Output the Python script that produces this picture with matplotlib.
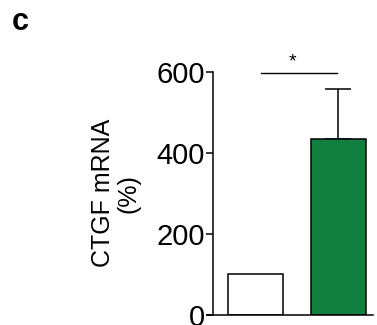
import matplotlib
matplotlib.use("Agg")
import matplotlib.pyplot as plt

plt.rcParams['font.family'] = ['Liberation Sans', 'DejaVu Sans']

groups = ["Control", "Treated"]
means = [100, 434]
errors_up = [0, 123]
bar_colors = ["white", "#11803f"]
yticks = [0, 200, 400, 600]
sig_level = 596
sig_text = "*"

fig = plt.figure(figsize=(3.77, 3.25), dpi=100)
ax = fig.add_axes([213/377, 1 - 315/325, 160/377, (315 - 71.7)/325])

x = [0, 1]
ax.bar(x, means, width=0.663, color=bar_colors, edgecolor="black", linewidth=1.1, zorder=2)
for xi, m, e in zip(x, means, errors_up):
    if e > 0:
        ax.errorbar(xi, m, yerr=[[0], [e]], fmt="none", ecolor="black",
                    elinewidth=1.1, capsize=9.5, capthick=1.1, zorder=1)

ax.set_xlim(-0.508, 1.419)
ax.set_ylim(0, 600)
ax.set_yticks(yticks)
ax.set_xticks([])
ax.tick_params(axis="y", labelsize=21, length=5, width=1.1, pad=1)
for side in ["top", "right"]:
    ax.spines[side].set_visible(False)
ax.spines["left"].set_linewidth(1.1)
ax.spines["bottom"].set_linewidth(1.1)
ax.spines["bottom"].set_bounds(-0.58, 1.419)
ax.spines["left"].set_bounds(0, 600)

ax.set_ylabel("CTGF mRNA\n(%)", fontsize=18, linespacing=1.12, labelpad=11)

# significance bracket
ax.plot([0.07, 0.99], [sig_level, sig_level], color="black", linewidth=1.0, clip_on=False)
ax.text(0.455, sig_level + 8, sig_text, ha="center", va="bottom", fontsize=14, clip_on=False)

fig.text(12/377, 1 - 30/325, "c", fontsize=22, fontweight="bold", ha="left", va="baseline")

fig.savefig("out.png", dpi=100)
